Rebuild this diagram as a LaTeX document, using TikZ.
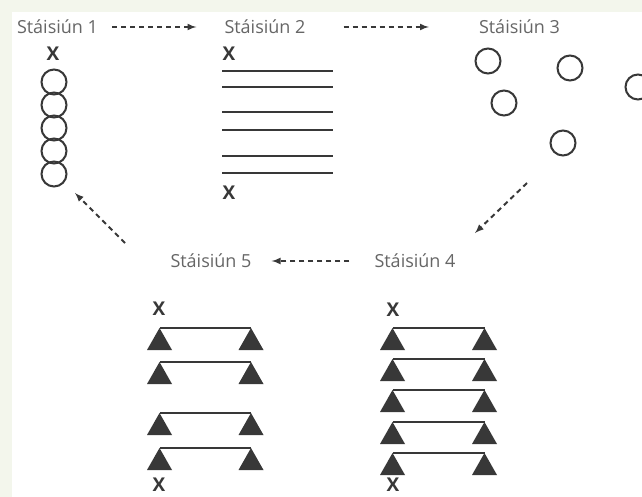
\documentclass[tikz,border=0pt]{standalone}
\usepackage{fontspec}
\setmainfont{Open Sans}
\usepackage{tikz}
\usetikzlibrary{arrows}
\definecolor{bgcol}{HTML}{F3F6EC}
\definecolor{ink}{HTML}{383838}
\definecolor{txt}{HTML}{666666}

\begin{document}
\begin{tikzpicture}[x=1pt, y=-1pt,
  lbl/.style={text=txt, font=\fontsize{18}{20}\selectfont, inner sep=0},
  xmark/.style={text=ink, font=\fontsize{19}{19}\selectfont\bfseries, inner sep=0},
  ring/.style={circle, draw=ink, line width=2, minimum size=25, inner sep=0},
  flow/.style={-latex, draw=ink, line width=2, dash pattern=on 5 off 4},
  slab/.style={draw=ink, line width=2.2}]

\useasboundingbox (0,0) rectangle (642,497);
\clip (0,0) rectangle (642,497);
\fill[bgcol] (0,0) rectangle (642,497);
\fill[white] (12,12) rectangle (642,497);

% station labels
\node[lbl] at (57.5,27) (a) {Stáisiún 1};
\node[lbl] at (265,27) (b) {Stáisiún 2};
\node[lbl] at (519.5,27) (c) {Stáisiún 3};
\node[lbl] at (415,261) (d) {Stáisiún 4};
\node[lbl] at (211,261) (e) {Stáisiún 5};

% station 1
\node[xmark] at (53,54) (x1) {X};
\foreach \y in {82,105,128,151,174}
  \node[ring] at (54,\y) (r\y) {};

% station 2
\node[xmark] at (229,54) (x2) {X};
\foreach \y in {71,87,112,130,156,173}
  \draw[slab, line width=2] (222,\y) -- (333,\y);
\node[xmark] at (229,193) (x3) {X};

% station 3
\node[ring] at (488,61) (c1) {};
\node[ring] at (570,68) (c2) {};
\node[ring] at (504,103) (c3) {};
\node[ring] at (563,143) (c4) {};
\node[ring] at (638,87) (c5) {};

% station 4
\node[xmark] at (393,310) (x4) {X};
\foreach \y in {328,359,390,422,453}{
  \fill[ink] (380,\y+22) -- (392.5,\y) -- (405,\y+22) -- cycle;
  \fill[ink] (472,\y+22) -- (484.5,\y) -- (497,\y+22) -- cycle;
  \draw[slab] (392.5,\y) -- (484.5,\y);
}
\node[xmark] at (393,485) (x5) {X};

% station 5
\node[xmark] at (159,309) (x6) {X};
\foreach \y in {328,362,413,448}{
  \fill[ink] (147,\y+22) -- (159.5,\y) -- (172,\y+22) -- cycle;
  \fill[ink] (238.5,\y+22) -- (251,\y) -- (263.5,\y+22) -- cycle;
  \draw[slab] (159.5,\y) -- (251,\y);
}
\node[xmark] at (159,485) (x7) {X};

% connectors
\coordinate (p) at (527,183);
\coordinate (q) at (475,233);
\coordinate (u) at (125,243);
\coordinate (v) at (75,193);
\draw[flow] ([xshift=14]a.east) -- ([xshift=-28]b.west);
\draw[flow] ([xshift=38]b.east) -- ([xshift=-50]c.west);
\draw[flow] (p) -- (q);
\draw[flow] ([xshift=-25]d.west) -- ([xshift=20]e.east);
\draw[flow] (u) -- (v);

\end{tikzpicture}
\end{document}
